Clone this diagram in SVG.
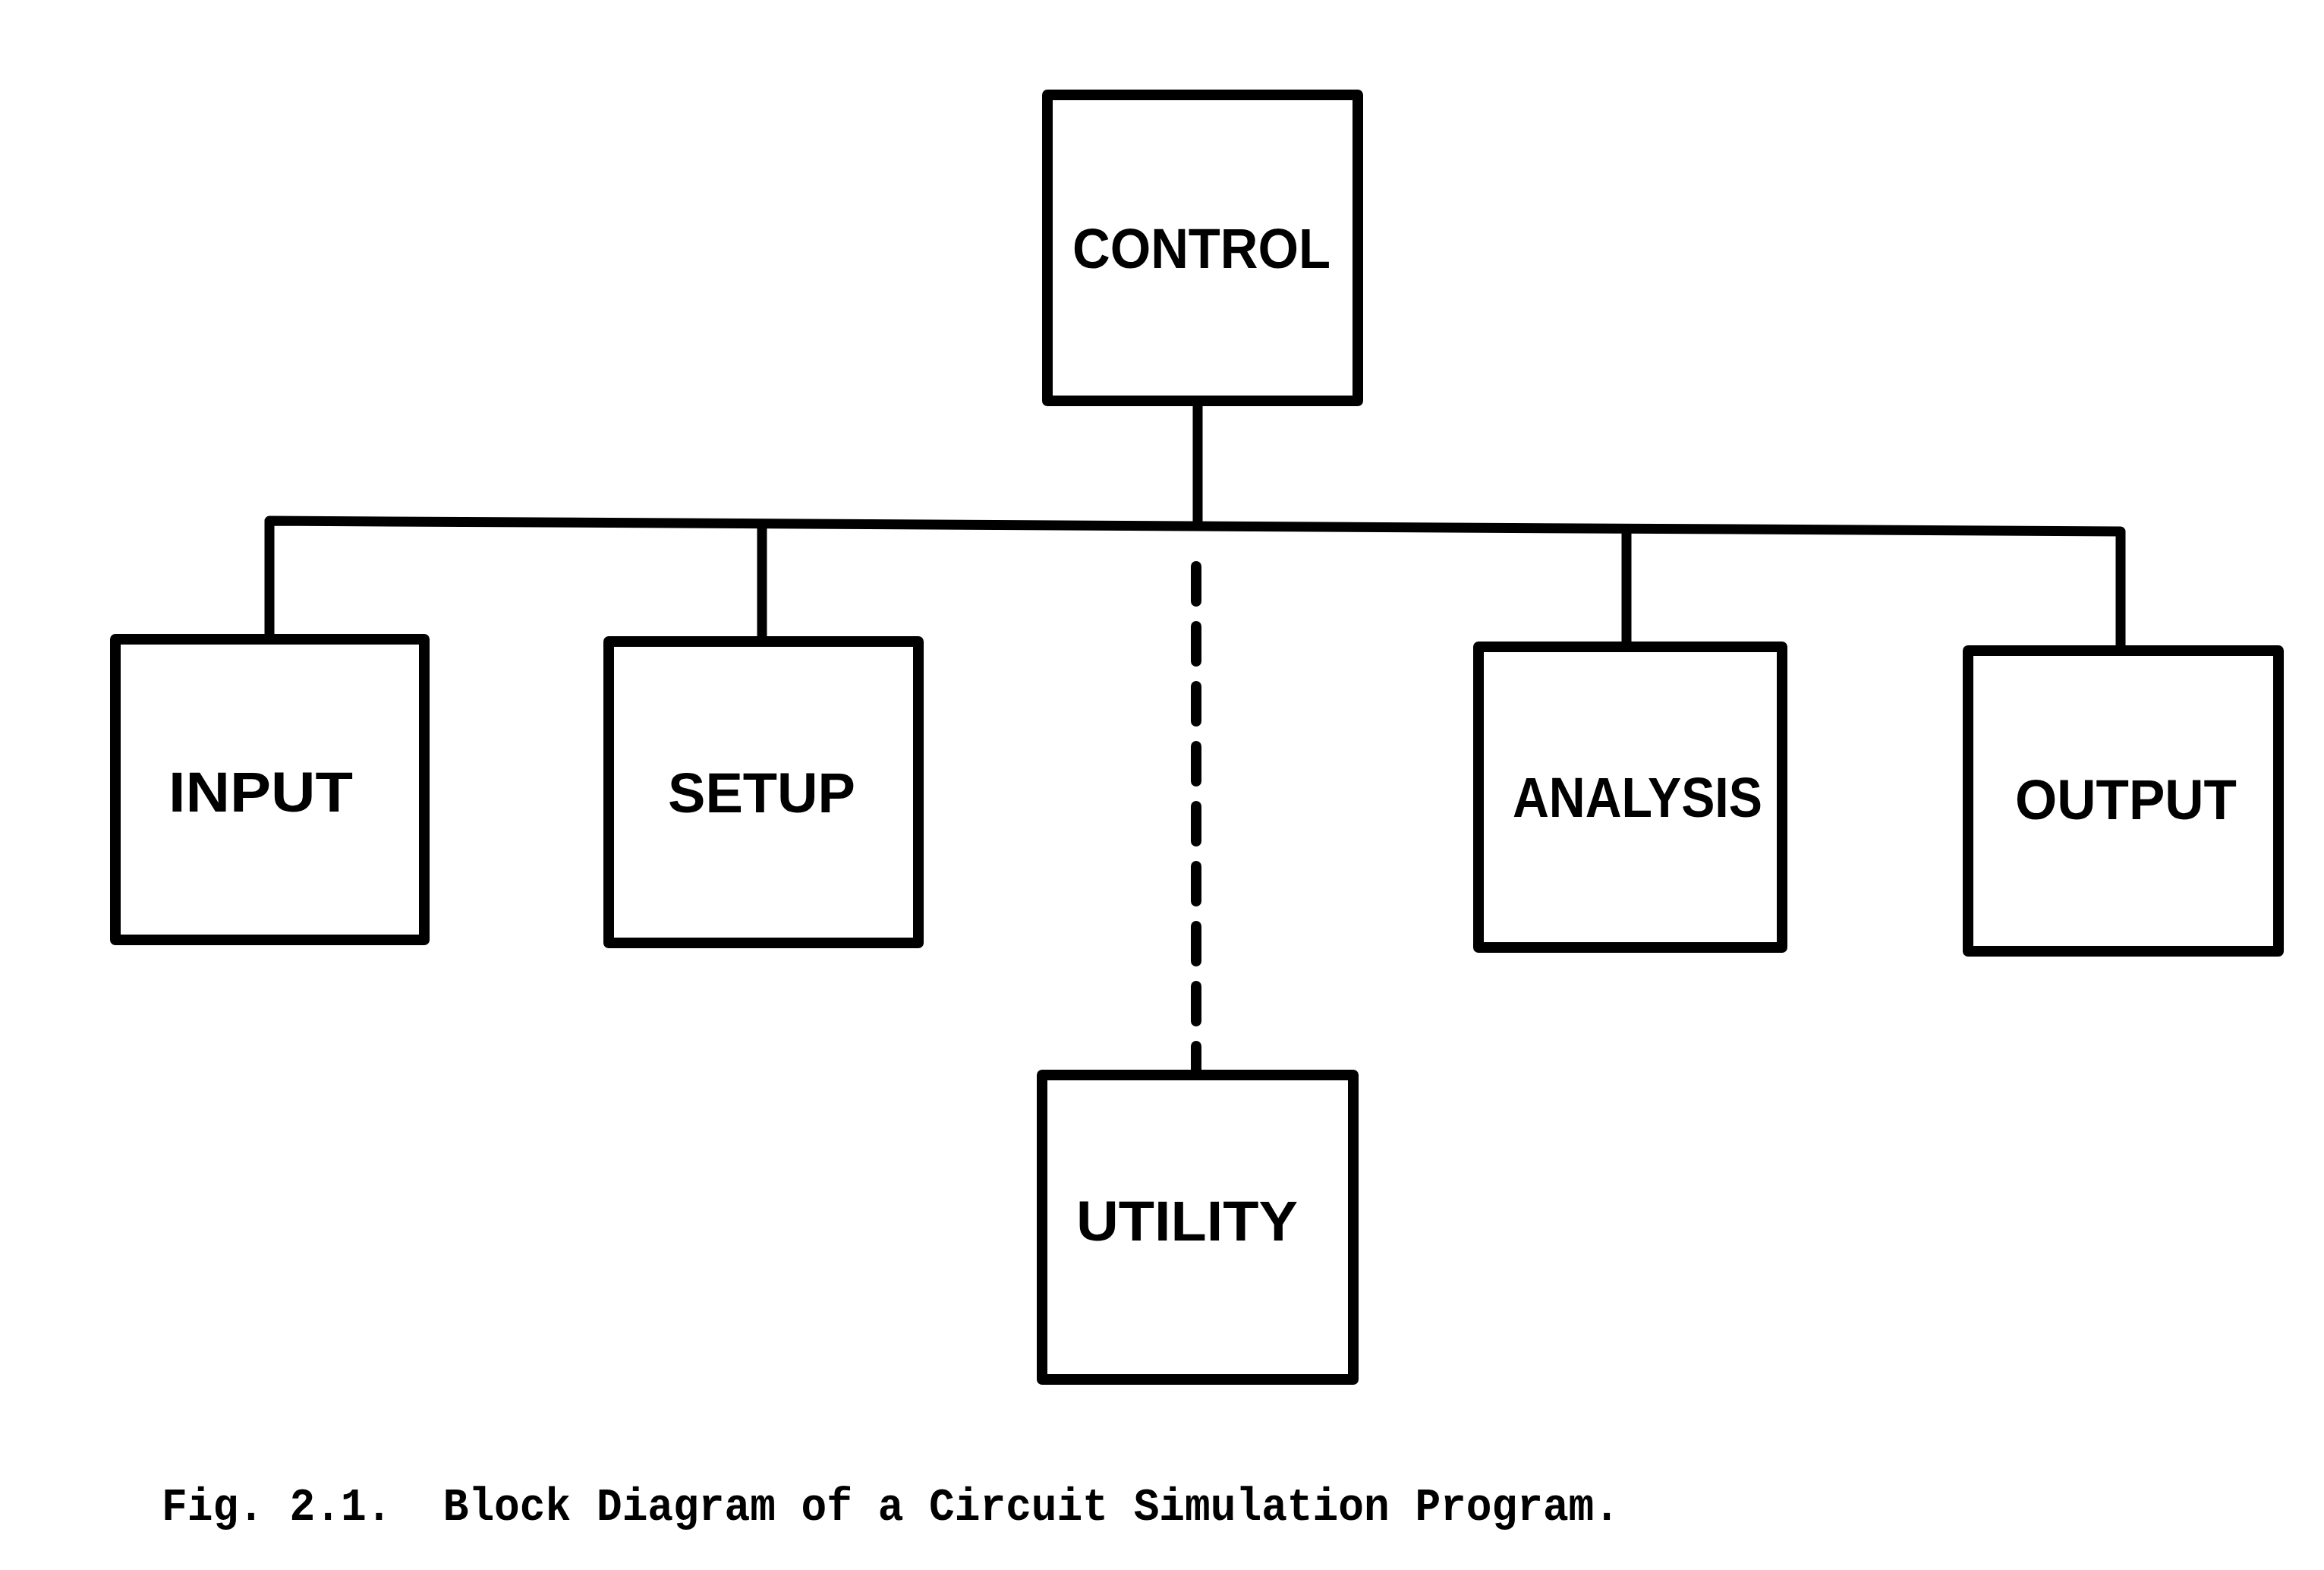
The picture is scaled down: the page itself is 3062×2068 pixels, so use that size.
<svg xmlns="http://www.w3.org/2000/svg" width="3062" height="2068" viewBox="0 0 3062 2068">
<style>
.box{fill:#fff;stroke:#000;stroke-width:14;stroke-linejoin:round}
.lbl{font-family:"Liberation Sans","DejaVu Sans",Arial,sans-serif;font-weight:bold;font-size:74px;fill:#000;text-anchor:start}
.wire{fill:none;stroke:#000;stroke-width:13;stroke-linejoin:round;stroke-linecap:butt}
.dash{fill:none;stroke:#000;stroke-width:14;stroke-linecap:round;stroke-dasharray:46 33}
.cap{font-family:"Liberation Mono","Courier New",monospace;font-weight:bold;font-size:62px;fill:#000}
</style>
<rect width="3062" height="2068" fill="#fff"/>
<g id="connectors">
<path class="wire" d="M355,842 V686 L2794,700 V857"/>
<path class="wire" d="M1578,528 V694"/>
<path class="wire" d="M1004,690 V845"/>
<path class="wire" d="M2143,696 V852"/>
<path class="dash" d="M1576,746 V1410"/>
</g>
<g id="control">
<rect class="box" x="1380" y="125" width="409" height="403"/>
<text class="lbl" x="1413" y="353" textLength="340" lengthAdjust="spacingAndGlyphs">CONTROL</text>
</g>
<g id="input">
<rect class="box" x="152" y="842" width="407" height="396"/>
<text class="lbl" x="222" y="1069" textLength="243" lengthAdjust="spacingAndGlyphs">INPUT</text>
</g>
<g id="setup">
<rect class="box" x="802" y="845" width="408" height="397"/>
<text class="lbl" x="880" y="1070" textLength="247" lengthAdjust="spacingAndGlyphs">SETUP</text>
</g>
<g id="analysis">
<rect class="box" x="1948" y="852" width="400" height="396"/>
<text class="lbl" x="1993" y="1076" textLength="329" lengthAdjust="spacingAndGlyphs">ANALYSIS</text>
</g>
<g id="output">
<rect class="box" x="2593" y="857" width="409" height="396"/>
<text class="lbl" x="2655" y="1079" textLength="292" lengthAdjust="spacingAndGlyphs">OUTPUT</text>
</g>
<g id="utility">
<rect class="box" x="1373" y="1416" width="410" height="401"/>
<text class="lbl" x="1418" y="1634" textLength="292" lengthAdjust="spacingAndGlyphs">UTILITY</text>
</g>
<g id="caption">
<text class="cap" x="213" y="2002" xml:space="preserve" textLength="1921" lengthAdjust="spacingAndGlyphs">Fig. 2.1.  Block Diagram of a Circuit Simulation Program.</text>
</g>
</svg>
